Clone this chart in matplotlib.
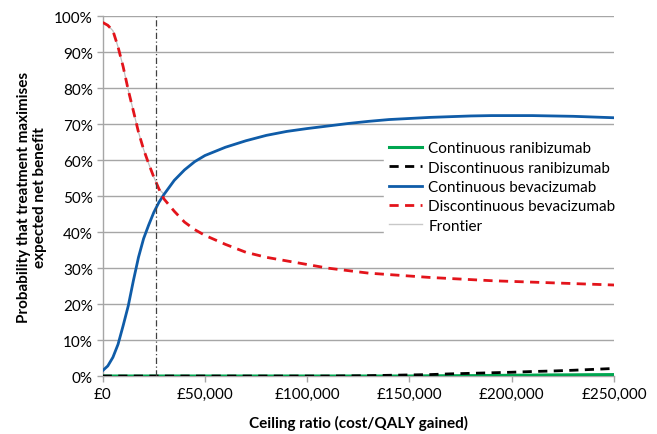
import matplotlib
matplotlib.use("Agg")
import matplotlib.pyplot as plt
from matplotlib.ticker import FuncFormatter, MultipleLocator

ceiling = [0, 2500, 5000, 7500, 10000, 12500, 15000, 17500, 20000, 22500, 25000,
           27500, 30000, 35000, 40000, 45000, 50000, 60000, 70000, 80000, 90000,
           100000, 110000, 120000, 130000, 140000, 150000, 160000, 170000, 180000,
           190000, 200000, 210000, 220000, 230000, 240000, 250000]

cont_rani = [0, 0, 0, 0, 0, 0, 0, 0, 0, 0, 0, 0, 0, 0, 0, 0, 0, 0, 0, 0, 0,
             0, 0, 0, 0, 0, 0, 0.05, 0.08, 0.1, 0.15, 0.2, 0.25, 0.3, 0.33, 0.37, 0.4]
disc_rani = [0, 0, 0, 0, 0, 0, 0, 0, 0, 0, 0, 0, 0, 0, 0, 0, 0, 0, 0, 0, 0,
             0, 0, 0.05, 0.1, 0.2, 0.3, 0.4, 0.6, 0.75, 0.9, 1.05, 1.25, 1.4, 1.6, 1.85, 2.1]
cont_bev = [1.5, 2.8, 5.2, 8.8, 14.0, 19.5, 26.5, 33.0, 38.2, 42.0, 45.5,
            48.3, 50.5, 54.4, 57.3, 59.6, 61.3, 63.6, 65.4, 66.9, 68.0,
            68.8, 69.5, 70.2, 70.8, 71.3, 71.6, 71.9, 72.1, 72.3, 72.4,
            72.4, 72.4, 72.3, 72.2, 72.0, 71.8]
disc_bev = [98.3, 97.5, 96.0, 91.5, 86.0, 79.5, 73.7, 67.8, 63.0, 59.0, 55.3,
            52.0, 49.2, 45.8, 42.8, 40.7, 39.1, 36.6, 34.4, 33.0, 32.0,
            31.0, 30.0, 29.3, 28.6, 28.2, 27.8, 27.4, 27.1, 26.8, 26.5,
            26.3, 26.1, 25.9, 25.7, 25.5, 25.3]
crossing_index = 12
threshold = 26000

frontier = disc_bev[:crossing_index] + cont_bev[crossing_index:]

plt.rcParams['font.family'] = ['Lato', 'DejaVu Sans']

fig = plt.figure(figsize=(6.57, 4.35), dpi=100)
ax = fig.add_axes([0.1563, 0.1333, 0.7783, 0.8269])

grid_c = '#A6A6A6'
ax.yaxis.grid(True, color=grid_c, lw=1.0)
ax.set_axisbelow(True)

ax.plot(ceiling, frontier, color='#BFBFBF', lw=0.9, zorder=2, label='_nolegend_')
l1, = ax.plot(ceiling, cont_rani, color='#00A650', lw=2.2, zorder=3)
l2, = ax.plot(ceiling, disc_rani, color='black', lw=2.0, dashes=(3.3, 2.3), zorder=4)
l3, = ax.plot(ceiling, cont_bev, color='#0F5CA8', lw=2.0, zorder=5)
l4, = ax.plot(ceiling, disc_bev, color='#E3141B', lw=2.0, dashes=(3.3, 2.3), zorder=6)
l5, = ax.plot([], [], color='#C8C8C8', lw=1.0)
ax.axvline(threshold, color='#404040', lw=0.9, ls=(0, (5, 2, 1, 2)), zorder=7)

ax.set_xlim(0, 250000)
ax.set_ylim(0, 100)
ax.xaxis.set_major_locator(MultipleLocator(50000))
ax.yaxis.set_major_locator(MultipleLocator(10))
ax.xaxis.set_major_formatter(FuncFormatter(lambda v, p: '£{:,.0f}'.format(v)))
ax.yaxis.set_major_formatter(FuncFormatter(lambda v, p: '{:.0f}%'.format(v)))

for s in ['top', 'right']:
    ax.spines[s].set_visible(False)
for s in ['left', 'bottom']:
    ax.spines[s].set_color(grid_c)
    ax.spines[s].set_linewidth(1.0)
ax.tick_params(axis='both', colors=grid_c, labelcolor='black', labelsize=11,
               length=4, width=1.0, direction='out')
ax.tick_params(axis='x', pad=4)
ax.tick_params(axis='y', pad=3)

ax.set_xlabel('Ceiling ratio (cost/QALY gained)', fontsize=11, fontweight='bold', labelpad=10)
ax.set_ylabel('Probability that treatment maximises\nexpected net benefit', fontsize=11,
              fontweight='bold', labelpad=5, linespacing=1.25)

leg = ax.legend([l1, l2, l3, l4, l5],
                ['Continuous ranibizumab', 'Discontinuous ranibizumab',
                 'Continuous bevacizumab', 'Discontinuous bevacizumab', 'Frontier'],
                loc='upper left', bbox_to_anchor=(0.55, 0.665), frameon=True,
                fontsize=11, handlelength=2.2, handletextpad=0.4, labelspacing=0.35,
                borderpad=0.3, borderaxespad=0.0, fancybox=False)
leg.get_frame().set_edgecolor('white')
leg.get_frame().set_facecolor('white')
leg.get_frame().set_alpha(1.0)
leg.set_zorder(10)

fig.savefig('out.png', dpi=100)
